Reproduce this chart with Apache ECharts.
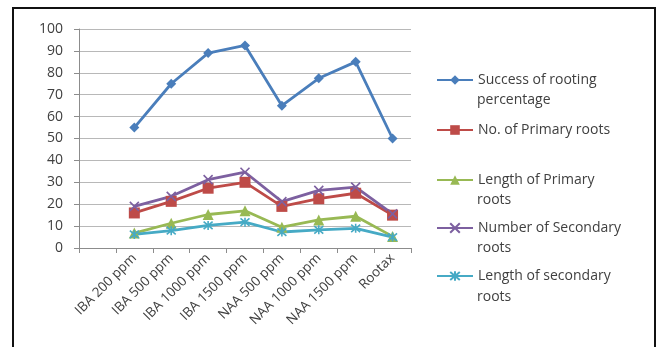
<!DOCTYPE html>
<html>
<head>
<meta charset="utf-8">
<script src="https://cdn.jsdelivr.net/npm/echarts@6/dist/echarts.min.js"></script>
<style>
  html, body { margin: 0; padding: 0; background: #fff; }
  #frame { position: absolute; left: 12px; top: 7px; width: 640px; height: 345px;
           border-left: 2.5px solid #111; border-top: 2.5px solid #111; border-right: 2.5px solid #111; }
  #chart { position: absolute; left: 0; top: 0; width: 657px; height: 347px; }
</style>
</head>
<body>
<div id="frame"></div>
<div id="chart"></div>
<script>
// Rooting treatments (first slot left empty, as on the original sheet)
const categories = ['', 'IBA 200 ppm', 'IBA 500 ppm', 'IBA 1000 ppm', 'IBA 1500 ppm',
  'NAA 500 ppm', 'NAA 1000 ppm', 'NAA 1500 ppm', 'Rootax'];

const successRooting   = [null, 55, 75, 89, 92.5, 65, 77.5, 85, 50];
const primaryRootCount = [null, 16, 21.3, 27.3, 30, 19, 22.5, 25, 15];
const primaryRootLen   = [null, 6.8, 11.3, 15.3, 17, 9.5, 12.8, 14.5, 5.3];
const secondaryCount   = [null, 19, 23.6, 31.2, 34.6, 21.2, 26.3, 27.8, 15.6];
const secondaryLen     = [null, 6.2, 7.9, 10.3, 11.8, 7.3, 8.3, 9, 5];

const yTicks = { min: 0, max: 100, interval: 10 };

const seriesNames = ['Success of rooting', 'No. of Primary roots', 'Length of Primary',
  'Number of Secondary', 'Length of secondary'];

const crossPath = 'path://M0,0L10,10M10,0L0,10';
const starPath = 'path://M0,0L10,10M10,0L0,10M5,-1L5,11';

function lineSeries(name, data, color, symbol, size, strokeOnly) {
  return {
    name: name, type: 'line', data: data, symbol: symbol, symbolSize: size,
    connectNulls: false,
    lineStyle: { color: color, width: 2.8 },
    itemStyle: strokeOnly
      ? { color: color, borderColor: color, borderWidth: 1.6 }
      : { color: color, borderColor: color, borderWidth: 0 },
    emphasis: { disabled: true },
    z: 3
  };
}

const textColor = '#404040';
const fontFam = 'Open Sans';
const legendFontSize = 14;
const legendTops = [73, 123, 173, 221, 269];
const contLines = [
  { text: 'percentage', top: 93 },
  { text: 'roots', top: 193 },
  { text: 'roots', top: 241 },
  { text: 'roots', top: 290 }
];

const chart = echarts.init(document.getElementById('chart'), null, { renderer: 'canvas' });
chart.setOption({
  animation: false,
  backgroundColor: 'transparent',
  grid: { left: 79, right: 246, top: 29, bottom: 99, containLabel: false },
  legend: seriesNames.map((n, i) => ({
    data: [n], left: 436, top: legendTops[i], orient: 'vertical',
    itemWidth: 36, itemHeight: 12, itemGap: 0, padding: 0,
    textStyle: { fontFamily: fontFam, fontSize: legendFontSize, color: textColor },
    selectedMode: false
  })),
  graphic: contLines.map(c => ({
    type: 'text', left: 477, top: c.top,
    style: { text: c.text, fill: textColor, font: legendFontSize + 'px "' + fontFam + '"' }
  })),
  xAxis: {
    type: 'category', data: categories, boundaryGap: true,
    axisLine: { lineStyle: { color: '#8c8c8c', width: 1 } },
    axisTick: { show: true, alignWithLabel: false, length: 5, lineStyle: { color: '#8c8c8c' } },
    axisLabel: { rotate: 45, interval: 0, margin: 8, fontFamily: fontFam, fontSize: 13.5, color: textColor },
    splitLine: { show: false }
  },
  yAxis: {
    type: 'value', min: yTicks.min, max: yTicks.max, interval: yTicks.interval,
    axisLine: { show: true, lineStyle: { color: '#8c8c8c', width: 1 } },
    axisTick: { show: true, length: 5, lineStyle: { color: '#8c8c8c' } },
    axisLabel: { margin: 16, fontFamily: fontFam, fontSize: 14, color: textColor },
    splitLine: { lineStyle: { color: '#b8b8b8', width: 1 } }
  },
  series: [
    lineSeries(seriesNames[0], successRooting, '#4A7EBB', 'diamond', 10, false),
    lineSeries(seriesNames[1], primaryRootCount, '#BE4B48', 'rect', 11, false),
    lineSeries(seriesNames[2], primaryRootLen, '#98B954', 'triangle', 11, false),
    lineSeries(seriesNames[3], secondaryCount, '#7D60A0', crossPath, 9, true),
    lineSeries(seriesNames[4], secondaryLen, '#46AAC5', starPath, 9, true)
  ]
});
</script>
</body>
</html>
